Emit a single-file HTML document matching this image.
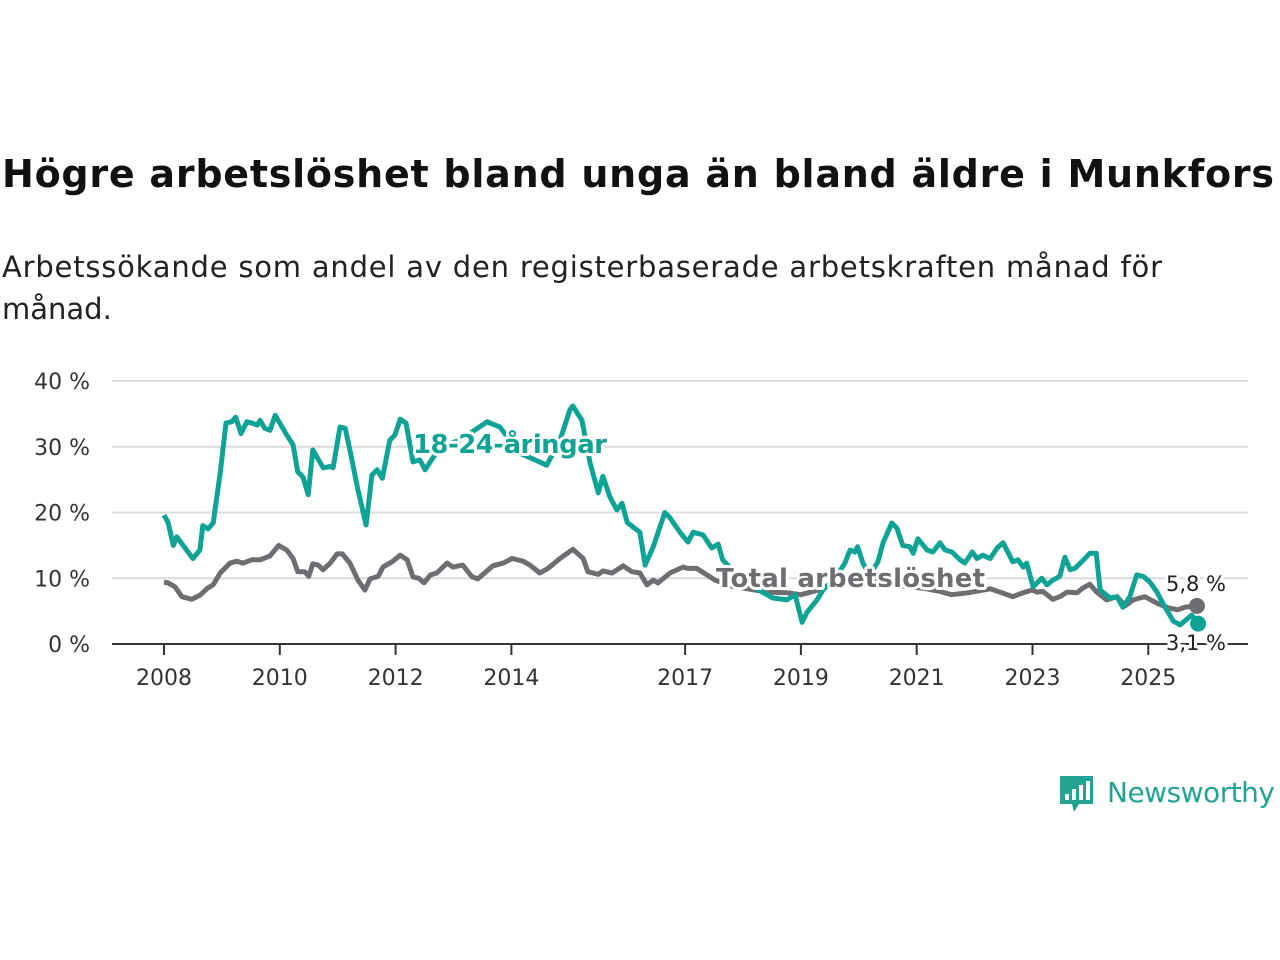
<!DOCTYPE html>
<html><head><meta charset="utf-8"><style>
body{margin:0;background:#fff;width:1280px;height:960px;overflow:hidden;font-family:"Liberation Sans","DejaVu Sans",sans-serif}
</style></head><body>
<svg width="1280" height="960" style="position:absolute;left:0;top:0">
<text x="2" y="187" font-family="DejaVu Sans, Liberation Sans, sans-serif" font-weight="bold" font-size="38" fill="#111" textLength="1272">Högre arbetslöshet bland unga än bland äldre i Munkfors</text>
<text x="2" y="277" font-family="DejaVu Sans, Liberation Sans, sans-serif" font-size="29" fill="#222" textLength="1160">Arbetssökande som andel av den registerbaserade arbetskraften månad för</text>
<text x="2" y="319" font-family="DejaVu Sans, Liberation Sans, sans-serif" font-size="29" fill="#222">månad.</text>
<g id="grid"></g><g id="axes"></g><g id="lines"></g><g id="labels"></g>
<g>
<path d="M1060 776 h33 v28 h-14 l-5 8 l-2 -8 h-12 z" fill="#23a393"/>
<rect x="1065" y="794" width="4" height="6" fill="#fff"/><rect x="1072" y="789" width="4" height="11" fill="#fff"/><rect x="1079" y="785" width="4" height="15" fill="#fff"/><rect x="1086" y="781" width="4" height="19" fill="#fff"/>
<text x="1107" y="802" font-family="DejaVu Sans, Liberation Sans, sans-serif" font-size="28" fill="#23a393" textLength="168">Newsworthy</text>
</g>
</svg>
<script>
const yTicks=[0,10,20,30,40];
const xTickYears=[2008,2010,2012,2014,2017,2019,2021,2023,2025];
const youthDates=[2008.0,2008.07,2008.16,2008.22,2008.5,2008.62,2008.67,2008.76,2008.85,2008.97,2009.07,2009.17,2009.24,2009.33,2009.43,2009.52,2009.61,2009.66,2009.74,2009.83,2009.92,2010.0,2010.12,2010.23,2010.31,2010.4,2010.49,2010.57,2010.75,2010.87,2010.92,2011.04,2011.13,2011.21,2011.35,2011.49,2011.59,2011.68,2011.77,2011.9,2011.99,2012.08,2012.18,2012.3,2012.42,2012.51,2012.77,2013.11,2013.58,2013.8,2014.15,2014.41,2014.61,2014.84,2015.01,2015.06,2015.22,2015.36,2015.5,2015.58,2015.7,2015.82,2015.91,2016.0,2016.1,2016.22,2016.31,2016.45,2016.65,2016.74,2016.91,2017.05,2017.14,2017.31,2017.46,2017.57,2017.65,2017.95,2018.35,2018.52,2018.76,2018.9,2019.02,2019.11,2019.28,2019.38,2019.59,2019.76,2019.85,2019.93,2019.98,2020.07,2020.19,2020.33,2020.42,2020.57,2020.66,2020.76,2020.88,2020.94,2021.02,2021.18,2021.28,2021.4,2021.49,2021.61,2021.75,2021.83,2021.96,2022.04,2022.14,2022.27,2022.39,2022.49,2022.66,2022.75,2022.84,2022.9,2023.01,2023.16,2023.25,2023.35,2023.47,2023.56,2023.65,2023.73,2023.85,2023.99,2024.1,2024.17,2024.34,2024.46,2024.56,2024.68,2024.8,2024.91,2025.03,2025.15,2025.25,2025.43,2025.55,2025.75,2025.86];
const youthValues=[19.6,18.5,15,16.3,13,14.3,18,17.5,18.4,26,33.6,33.8,34.5,32,33.8,33.6,33.3,34,32.8,32.5,34.8,33.6,31.8,30.3,26.2,25.4,22.7,29.5,26.8,27,26.8,33,32.8,29.5,23.4,18.1,25.7,26.5,25.2,31,31.8,34.2,33.6,27.7,28,26.5,30,31,33.8,33,29,28,27.2,31,35.6,36.2,34,27.5,23,25.5,22.4,20.4,21.4,18.5,17.8,17,12,14.8,20,19.2,17,15.5,17,16.6,14.6,15.2,12.8,10,7.8,7,6.7,7.5,3.3,4.9,6.7,8.2,10,12.3,14.3,14,14.8,12.3,10.5,12.5,15.4,18.4,17.6,15,14.8,13.8,16,14.3,14,15.4,14.3,14,12.8,12.3,14,13,13.5,13,14.6,15.4,12.5,12.8,11.7,12.3,8.7,10,9,9.7,10.3,13.2,11.3,11.5,12.5,13.8,13.8,8.2,7,7.2,5.6,7.2,10.5,10.3,9.4,7.9,6.2,3.5,2.9,4.4,3.1];
const totalDates=[2008.0,2008.07,2008.19,2008.31,2008.48,2008.62,2008.74,2008.85,2008.97,2009.14,2009.26,2009.36,2009.52,2009.66,2009.83,2009.98,2010.12,2010.23,2010.31,2010.43,2010.5,2010.57,2010.66,2010.75,2010.87,2010.99,2011.08,2011.21,2011.35,2011.47,2011.56,2011.7,2011.78,2011.94,2012.08,2012.2,2012.3,2012.4,2012.49,2012.6,2012.71,2012.89,2012.99,2013.16,2013.32,2013.42,2013.68,2013.86,2014.01,2014.2,2014.32,2014.49,2014.63,2014.84,2015.06,2015.24,2015.32,2015.5,2015.58,2015.74,2015.93,2016.08,2016.22,2016.34,2016.45,2016.53,2016.74,2016.96,2017.05,2017.2,2017.38,2017.52,2017.8,2018.42,2018.76,2019.0,2019.3,2019.6,2019.9,2020.2,2020.5,2020.8,2021.1,2021.4,2021.6,2021.9,2022.27,2022.44,2022.66,2022.84,2022.99,2023.08,2023.18,2023.35,2023.47,2023.6,2023.77,2023.87,2023.99,2024.11,2024.28,2024.46,2024.6,2024.74,2024.94,2025.15,2025.34,2025.51,2025.63,2025.84];
const totalValues=[9.4,9.3,8.7,7.2,6.8,7.4,8.4,9,10.8,12.3,12.6,12.3,12.8,12.8,13.4,15,14.3,13,11,11,10.3,12.2,12,11.3,12.3,13.7,13.7,12.3,9.7,8.2,9.9,10.3,11.7,12.5,13.5,12.8,10.2,10,9.3,10.5,10.8,12.3,11.7,12,10.2,9.9,11.9,12.3,13,12.6,12,10.8,11.5,13,14.4,13,11,10.6,11.1,10.8,11.9,11,10.8,9,9.7,9.3,10.8,11.7,11.5,11.5,10.5,9.7,8.8,7.9,7.8,7.5,8.2,9.5,10.2,10,9.2,8.8,8.5,8,7.5,7.8,8.4,7.9,7.2,7.8,8.2,7.9,8,6.8,7.2,7.9,7.8,8.5,9.1,7.9,6.7,7.2,5.8,6.7,7.2,6.2,5.5,5.2,5.6,5.8];
const endLabels=["5,8 %","3,1 %"];

const NS="http://www.w3.org/2000/svg";
const X=t=>164+(t-2008)*57.9;
const Y=v=>644-v*6.575;
function mk(tag,attrs,parent,text){const e=document.createElementNS(NS,tag);for(const k in attrs)e.setAttribute(k,attrs[k]);if(text!==undefined)e.textContent=text;document.getElementById(parent).appendChild(e);return e;}
const FONT="DejaVu Sans, Liberation Sans, sans-serif";
yTicks.forEach(v=>{
  if(v>0){const g=mk('line',{x1:112,x2:1248,y1:Y(v),y2:Y(v),stroke:'#dcdcdc','stroke-width':2},'grid');
  
  }
  const t=mk('text',{x:90,y:Y(v)+8,'text-anchor':'end','font-family':FONT,'font-size':22,fill:'#333'},'axes',v+' %');
  
  
});
const ax=mk('line',{x1:112,x2:1248,y1:644,y2:644,stroke:'#333','stroke-width':2},'axes');


xTickYears.forEach(y=>{
  const tk=mk('line',{x1:X(y),x2:X(y),y1:644,y2:655,stroke:'#333','stroke-width':2},'axes');
  
  
  const t=mk('text',{x:X(y),y:685,'text-anchor':'middle','font-family':FONT,'font-size':22,fill:'#333'},'axes',String(y));
  
  
});
function path(d,v){return d.map((t,i)=>(i?'L':'M')+X(t).toFixed(1)+' '+Y(v[i]).toFixed(1)).join(' ');}
const pt=mk('path',{d:path(totalDates,totalValues),fill:'none',stroke:'#6e6e72','stroke-width':5,'stroke-linejoin':'round'},'lines');


const py=mk('path',{d:path(youthDates,youthValues),fill:'none',stroke:'#0fa396','stroke-width':5,'stroke-linejoin':'round'},'lines');


const lt=totalDates.length-1, ly=youthDates.length-1;
const dt=mk('circle',{cx:X(totalDates[lt]),cy:Y(totalValues[lt]),r:8,fill:'#6e6e72'},'lines');


const dy=mk('circle',{cx:X(youthDates[ly]),cy:Y(youthValues[ly]),r:8,fill:'#0fa396'},'lines');


const halo={stroke:'#fff','stroke-width':6,'paint-order':'stroke','stroke-linejoin':'round'};
const l1=mk('text',Object.assign({x:413,y:453,'font-family':FONT,'font-weight':'bold','font-size':26,fill:'#0fa396',textLength:194},halo),'labels','18-24-åringar');


const l2=mk('text',Object.assign({x:716,y:587,'font-family':FONT,'font-weight':'bold','font-size':26,fill:'#6e6e72',textLength:269},halo),'labels','Total arbetslöshet');


const e1=mk('text',Object.assign({x:1196,y:591,'text-anchor':'middle','font-family':FONT,'font-size':21,fill:'#222'},halo),'labels',endLabels[0]);


const e2=mk('text',Object.assign({x:1196,y:650,'text-anchor':'middle','font-family':FONT,'font-size':21,fill:'#222'},halo),'labels',endLabels[1]);


</script>
</body></html>
